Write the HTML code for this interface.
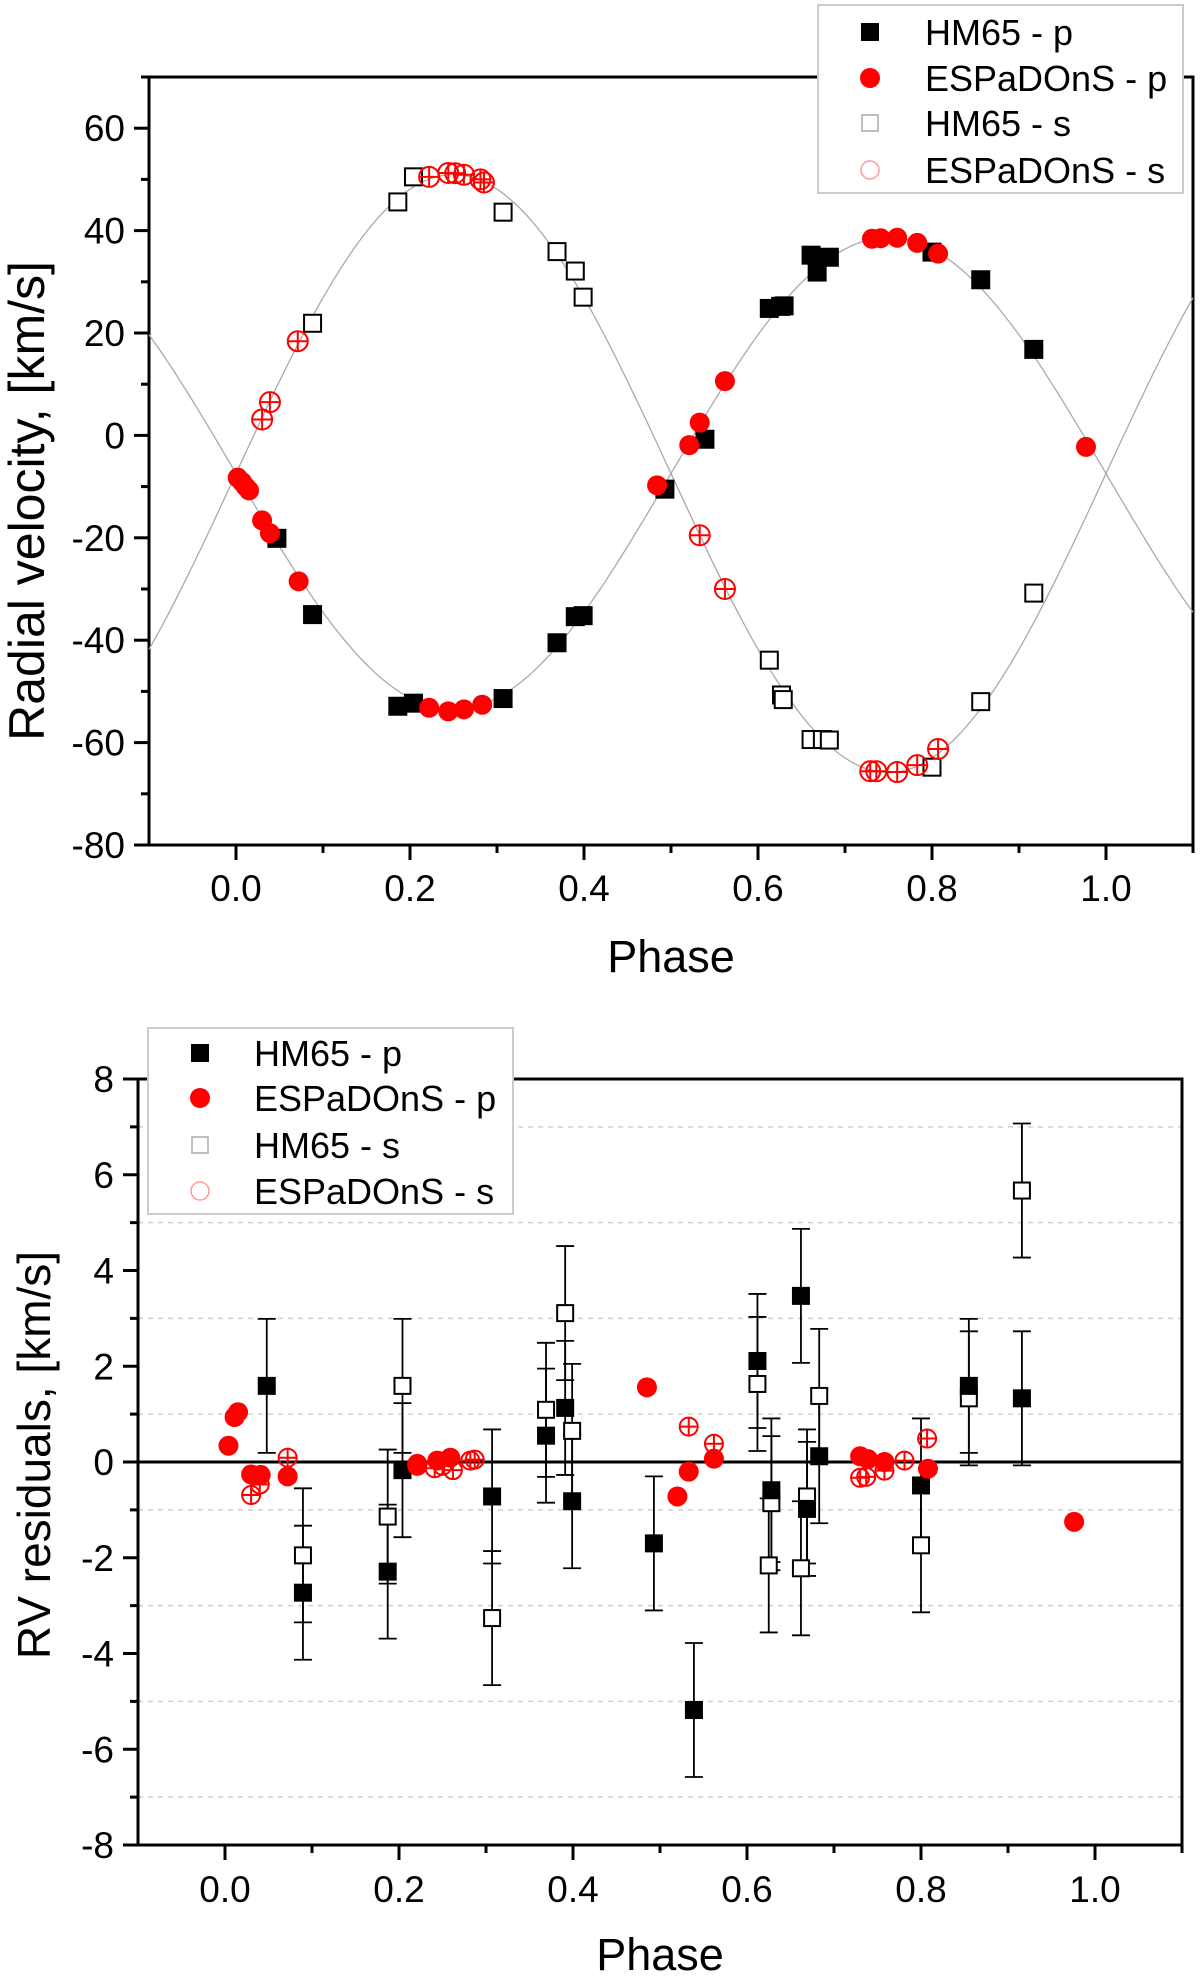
<!DOCTYPE html>
<html><head><meta charset="utf-8"><style>
html,body{margin:0;padding:0;background:#fff}
svg{display:block;font-family:"Liberation Sans",Arial,sans-serif}
</style></head><body>
<svg id="fig" width="1200" height="1978" viewBox="0 0 1200 1978" xmlns="http://www.w3.org/2000/svg">
<g id="top"></g>
<g id="bot"></g>
</svg>
<script>
// ---------- Top chart data ----------
const hmP_x=[.047,.088,.186,.204,.307,.369,.39,.399,.493,.539,.613,.626,.63,.661,.668,.682,.8,.856,.917];
const hmP_y=[-20.1,-35,-52.9,-52.3,-51.4,-40.5,-35.4,-35.2,-10.5,-0.75,24.8,25.2,25.3,35.2,31.9,34.8,35.8,30.4,16.8];
const hmS_x=[.088,.186,.204,.307,.369,.39,.399,.613,.627,.629,.661,.674,.682,.8,.856,.917];
const hmS_y=[21.9,45.6,50.5,43.6,35.9,32.1,27,-43.9,-50.7,-51.6,-59.4,-59.4,-59.5,-64.8,-52,-30.8];
const esP_x=[.002,.007,.011,.015,.03,.039,.072,.222,.244,.262,.283,.484,.521,.533,.562,.731,.741,.76,.783,.807,.977];
const esP_y=[-8.25,-9.1,-10,-10.75,-16.6,-19.1,-28.5,-53.2,-53.9,-53.5,-52.6,-9.75,-1.9,2.5,10.6,38.4,38.5,38.6,37.6,35.5,-2.25];
const esS_x=[.03,.039,.071,.222,.244,.252,.262,.281,.285,.533,.562,.729,.736,.76,.783,.807];
const esS_y=[3.1,6.5,18.4,50.5,51.25,51.2,50.9,50,49.4,-19.5,-30,-65.6,-65.6,-65.75,-64.4,-61.25];
const fitGamma=-7.45, fitK1=46.1, fitK2=58.4;
const topYTicks=[-80,-60,-40,-20,0,20,40,60];
const xTicks=[0,0.2,0.4,0.6,0.8,1.0];
const xTickLabels=["0.0","0.2","0.4","0.6","0.8","1.0"];
// ---------- Bottom chart data ----------
const rHmP_x=[.048,.0896,.187,.204,.307,.369,.391,.399,.493,.539,.612,.628,.662,.669,.683,.8,.855,.916];
const rHmP_y=[1.59,-2.73,-2.29,-0.17,-0.72,0.55,1.13,-0.82,-1.7,-5.18,2.11,-0.59,3.47,-0.98,0.12,-0.49,1.59,1.33];
const rHmP_e=[1.4,1.4,1.4,1.4,1.4,1.4,1.4,1.4,1.4,1.4,1.4,1.5,1.4,1.4,1.4,1.4,1.4,1.4];
const rHmS_x=[.0896,.187,.204,.307,.369,.391,.399,.612,.625,.628,.662,.669,.683,.8,.855,.916];
const rHmS_y=[-1.95,-1.14,1.59,-3.26,1.09,3.11,0.65,1.63,-2.16,-0.86,-2.22,-0.72,1.38,-1.74,1.33,5.67];
const rHmS_e=[1.4,1.4,1.4,1.4,1.4,1.4,1.4,1.4,1.4,1.4,1.4,1.4,1.4,1.4,1.4,1.4];
const rEsP_x=[.004,.011,.015,.03,.041,.072,.221,.244,.259,.485,.52,.533,.562,.73,.739,.758,.808,.976];
const rEsP_y=[0.34,0.94,1.04,-0.26,-0.27,-0.3,-0.04,0.03,0.09,1.56,-0.72,-0.2,0.07,0.12,0.06,0,-0.14,-1.25];
const rEsS_x=[.03,.04,.072,.221,.241,.25,.262,.282,.287,.533,.562,.73,.737,.758,.781,.807];
const rEsS_y=[-0.69,-0.47,0.09,-0.08,-0.13,-0.08,-0.17,0.03,0.05,0.74,0.38,-0.33,-0.31,-0.18,0.03,0.49];
const botYTicks=[-8,-6,-4,-2,0,2,4,6,8];
const legendLabels=["HM65 - p","ESPaDOnS - p","HM65 - s","ESPaDOnS - s"];

const NS="http://www.w3.org/2000/svg";
function mk(parent,tag,attrs,text){const e=document.createElementNS(NS,tag);for(const k in attrs)e.setAttribute(k,attrs[k]);if(text!==undefined)e.textContent=text;parent.appendChild(e);return e;}

function sqMark(g,cx,cy,filled,s){
  const e=mk(g,'rect',{x:cx-s/2,y:cy-s/2,width:s,height:s,fill:filled?'#000':'#fff',stroke:'#000','stroke-width':2});
  
  
}
function circMark(g,cx,cy,filled,r){
  if(filled){
    const e=mk(g,'circle',{cx:cx,cy:cy,r:r,fill:'#f00'});
    
    
  } else {
    const e=mk(g,'circle',{cx:cx,cy:cy,r:r,fill:'none',stroke:'#f00','stroke-width':2});
    
    
    mk(g,'line',{x1:cx-r,x2:cx+r,y1:cy,y2:cy,stroke:'#f00','stroke-width':2});
    mk(g,'line',{x1:cx,x2:cx,y1:cy-r,y2:cy+r,stroke:'#f00','stroke-width':2});
  }
}

function axes(g,o){
  const {L,R,T,B,x,y,yTicks,yMinor,ylab,ycy,ybase,yfs,phaseY,tickY}=o;
  xTicks.forEach((v,i)=>{
    mk(g,'line',{x1:x(v),x2:x(v),y1:B,y2:B+15,stroke:'#000','stroke-width':3});
    const t=mk(g,'text',{x:x(v),y:tickY,'font-size':37,'text-anchor':'middle'},xTickLabels[i]);
    
    
  });
  [0.1,0.3,0.5,0.7,0.9,1.1].forEach(v=>mk(g,'line',{x1:x(v),x2:x(v),y1:B,y2:B+8,stroke:'#000','stroke-width':3}));
  yTicks.forEach(v=>{
    mk(g,'line',{x1:L-15,x2:L,y1:y(v),y2:y(v),stroke:'#000','stroke-width':3});
    const t=mk(g,'text',{x:L-24,y:y(v)+13,'font-size':37,'text-anchor':'end'},String(v));
    
    
  });
  yMinor.forEach(v=>mk(g,'line',{x1:L-8,x2:L,y1:y(v),y2:y(v),stroke:'#000','stroke-width':3}));
  const fr=mk(g,'rect',{x:L,y:T,width:R-L,height:B-T,fill:'none',stroke:'#000','stroke-width':3});
  
  
  const px=mk(g,'text',{x:(L+R)/2,y:phaseY,'font-size':45,'text-anchor':'middle'},'Phase');
  
  
  const yt=mk(g,'text',{x:0,y:0,'font-size':yfs,'text-anchor':'middle',transform:`translate(${ybase} ${ycy}) rotate(-90)`},ylab);
  
  
}

function legendBox(g,bx,by,bw,bh,mx,tx,rows){
  const lg=mk(g,'g',{});
  
  
  mk(lg,'rect',{x:bx,y:by,width:bw,height:bh,fill:'#fff',stroke:'#ccc','stroke-width':2});
  rows.forEach((ry,i)=>{
    const eg=mk(lg,'g',{});
    
    
    if(i===0) mk(eg,'rect',{x:mx-9,y:ry-9,width:18,height:18,fill:'#000'});
    if(i===1) mk(eg,'circle',{cx:mx,cy:ry,r:10,fill:'#f00'});
    if(i===2) mk(eg,'rect',{x:mx-8,y:ry-8,width:16,height:16,fill:'#fff',stroke:'#aaa','stroke-width':1.5});
    if(i===3) mk(eg,'circle',{cx:mx,cy:ry,r:9,fill:'none',stroke:'#f99','stroke-width':1.5});
    mk(eg,'text',{x:tx,y:ry+13,'font-size':36},legendLabels[i]);
  });
}

// ---------- TOP ----------
(function(){
  const g=document.getElementById('top');
  const L=149,R=1193,T=77,B=845;
  const x=v=>L+(v+0.1)/1.2*(R-L);
  const y=v=>B-(v+80)/150*(B-T);
  axes(g,{L,R,T,B,x,y,yTicks:topYTicks,yMinor:[-70,-50,-30,-10,10,30,50,70],ylab:'Radial velocity, [km/s]',ycy:501,ybase:44,yfs:50,phaseY:972,tickY:901});
  let p1='',p2='';
  for(let i=0;i<=240;i++){const ph=-0.1+1.2*i/240;
    p1+=(i?'L':'M')+x(ph).toFixed(1)+','+y(fitGamma-fitK1*Math.sin(2*Math.PI*ph)).toFixed(1);
    p2+=(i?'L':'M')+x(ph).toFixed(1)+','+y(fitGamma+fitK2*Math.sin(2*Math.PI*ph)).toFixed(1);}
  const c1=mk(g,'path',{d:p1,fill:'none',stroke:'#aaa','stroke-width':1.3});
  
  
  const c2=mk(g,'path',{d:p2,fill:'none',stroke:'#aaa','stroke-width':1.3});
  
  
  hmS_x.forEach((v,i)=>sqMark(g,x(v),y(hmS_y[i]),false,17));
  hmP_x.forEach((v,i)=>sqMark(g,x(v),y(hmP_y[i]),true,17));
  esS_x.forEach((v,i)=>circMark(g,x(v),y(esS_y[i]),false,10));
  esP_x.forEach((v,i)=>circMark(g,x(v),y(esP_y[i]),true,10));
  legendBox(g,818,5,365,188,870,925,[32,78,123,170]);
})();

// ---------- BOTTOM ----------
(function(){
  const g=document.getElementById('bot');
  const L=138,R=1182,T=1079,B=1845;
  const x=v=>L+(v+0.1)/1.2*(R-L);
  const y=v=>B-(v+8)/16*(B-T);
  [-7,-5,-3,-1,1,3,5,7].forEach(v=>{
    const gl=mk(g,'line',{x1:L,x2:R,y1:y(v),y2:y(v),stroke:'#d0d0d0','stroke-width':1.5,'stroke-dasharray':'5,5'});
    
    
  });
  const zl=mk(g,'line',{x1:L,x2:R,y1:y(0),y2:y(0),stroke:'#000','stroke-width':3});
  
  
  axes(g,{L,R,T,B,x,y,yTicks:botYTicks,yMinor:[-7,-5,-3,-1,1,3,5,7],ylab:'RV residuals, [km/s]',ycy:1455,ybase:50,yfs:46,phaseY:1970,tickY:1902});
  function ebar(cx,v,e){
    const eb=mk(g,'g',{stroke:'#000','stroke-width':1.8});
    
    
    mk(eb,'line',{x1:cx,x2:cx,y1:y(v-e),y2:y(v+e)});
    mk(eb,'line',{x1:cx-9,x2:cx+9,y1:y(v-e),y2:y(v-e)});
    mk(eb,'line',{x1:cx-9,x2:cx+9,y1:y(v+e),y2:y(v+e)});
  }
  rHmS_x.forEach((v,i)=>ebar(x(v),rHmS_y[i],rHmS_e[i]));
  rHmP_x.forEach((v,i)=>ebar(x(v),rHmP_y[i],rHmP_e[i]));
  rHmS_x.forEach((v,i)=>sqMark(g,x(v),y(rHmS_y[i]),false,16));
  rHmP_x.forEach((v,i)=>sqMark(g,x(v),y(rHmP_y[i]),true,16));
  rEsS_x.forEach((v,i)=>circMark(g,x(v),y(rEsS_y[i]),false,9));
  rEsP_x.forEach((v,i)=>circMark(g,x(v),y(rEsP_y[i]),true,10));
  legendBox(g,148,1028,365,186,200,254,[1053,1098,1145,1191]);
})();
</script>
</body></html>
